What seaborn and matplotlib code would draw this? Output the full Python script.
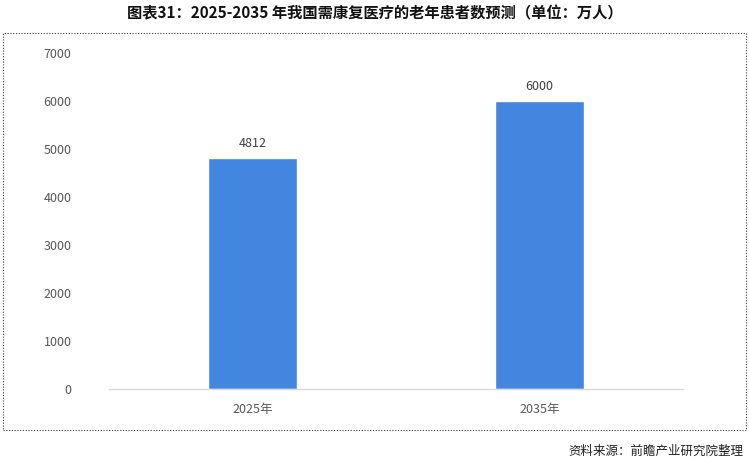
import pandas as pd
import matplotlib.pyplot as plt
import seaborn as sns
from matplotlib.patches import Rectangle

# Data
years = ['2025年', '2035年']
patients = [4812, 6000]
yticks = [0, 1000, 2000, 3000, 4000, 5000, 6000, 7000]

df = pd.DataFrame({'year': years, 'patients': patients})

sns.set_theme(style="white")
plt.rcParams['font.family'] = ['Noto Sans CJK SC', 'DejaVu Sans']

fig = plt.figure(figsize=(7.49, 4.61), dpi=100)
ax = fig.add_axes([0.1455, 0.1562, 0.7665, 0.7288])

sns.barplot(data=df, x='year', y='patients', color='#4286e0',
            saturation=1, width=0.31, ax=ax)

ax.set_xlim(-0.5, 1.5)
ax.set_ylim(0, 7000)
ax.set_yticks(yticks)
ax.set_yticklabels([str(v) for v in yticks])
ax.set_xlabel('')
ax.set_ylabel('')

for s in ['top', 'right', 'left']:
    ax.spines[s].set_visible(False)
ax.spines['bottom'].set_color('#d9d9d9')
ax.spines['bottom'].set_linewidth(1)
ax.tick_params(axis='y', length=0, labelsize=9, labelcolor='#595959', pad=27)
ax.tick_params(axis='x', length=0, labelsize=9, labelcolor='#595959', pad=10)

for container in ax.containers:
    ax.bar_label(container, fmt='%d', padding=6, fontsize=9, color='#404040')

# dotted frame around the chart
fig.patches.append(Rectangle((3 / 749, 1 - 430 / 461), 743 / 749, 397 / 461,
                             transform=fig.transFigure, fill=False,
                             edgecolor='#404040', linestyle=(0, (1, 1.5)),
                             linewidth=0.8))

fig.text(0.5, 1 - 13 / 461,
         '图表31：2025-2035 年我国需康复医疗的老年患者数预测（单位：万人）',
         ha='center', va='center', fontsize=11, fontweight='bold',
         color='#111111')
fig.text(743 / 749, 1 - 451 / 461, '资料来源：前瞻产业研究院整理',
         ha='right', va='center', fontsize=9, color='#222222')

plt.savefig('out.png', dpi=100)
